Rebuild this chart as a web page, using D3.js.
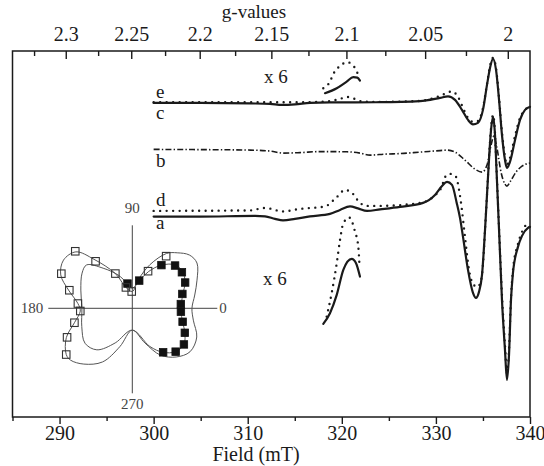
<!DOCTYPE html>
<html>
<head>
<meta charset="utf-8">
<script src="https://cdn.jsdelivr.net/npm/d3@7"></script>
<style>
	body { margin: 0; background: #fff; }
	svg { display: block; font-family: "Liberation Serif", "DejaVu Serif", serif; }
	svg text { font-family: "Liberation Serif", "DejaVu Serif", serif; }
</style>
</head>
<body>
<div id="chart"></div>
<script>
// ---- axes ----
const fieldTicks = [290, 300, 310, 320, 330, 340];
const fieldMinor = [285, 295, 305, 315, 325, 335];
const gTicks = [2.3, 2.25, 2.2, 2.15, 2.1, 2.05, 2];
const gLabels = ["2.3", "2.25", "2.2", "2.15", "2.1", "2.05", "2"];
const gMinor = [2.325, 2.275, 2.225, 2.175, 2.125, 2.075, 2.025];
// where the printed g scale sits on the field axis (mT)
const gAnchors = [2.3, 2];
const gAnchorField = [290.66, 337.64];

// ---- spectra: [field mT, signal a.u. relative to baseline] ----
const baseTop = 104.7;   // traces e, c
const baseMid = 89.2;    // trace b
const baseLow = 66.8;    // traces d, a

const traceC = [[300.0,0],[304.93,0],[310.24,-0.17],[312.37,-0.33],[313.64,-0.67],[315.02,-0.5],[316.62,0],[318.74,0.17],[324.06,0.23],[328.31,0.6],[330.44,1.67],[331.29,2.17],[332.03,1.0],[332.77,-2.33],[333.41,-5.67],[333.94,-7.17],[334.47,-6.67],[335.0,-2.33],[335.43,6.0],[335.75,11.67],[336.07,14.67],[336.39,11.0],[336.71,1.0],[337.02,-10.67],[337.34,-19.0],[337.55,-21.67],[337.87,-19.67],[338.41,-12.33],[338.94,-5.67],[339.47,-2.33],[340.0,-1.33]];

const traceE = [[300.0,0.23],[310.24,0.23],[315.56,0.23],[318.21,0.4],[319.81,1.33],[320.55,2.0],[321.4,1.33],[322.15,0.5],[324.06,0.33],[328.31,0.67],[330.44,2.33],[331.71,3.83],[332.35,2.0],[332.88,-1.67],[333.41,-5.0],[333.94,-6.33],[334.47,-6.0],[335.0,-1.67],[335.43,6.33],[335.75,12.33],[336.07,15.0],[336.39,11.67],[336.71,1.67],[337.02,-9.67],[337.34,-18.0],[337.55,-20.67],[337.87,-18.33],[338.41,-11.0],[338.94,-5.0],[339.47,-2.33],[340.0,-1.0]];

const traceB = [[300.0,0],[304.93,-0.07],[310.24,-0.23],[312.37,-0.57],[313.75,-1.23],[315.56,-1.07],[317.68,-0.73],[320.55,-0.8],[321.93,-1.23],[323.0,-1.9],[324.59,-1.57],[326.18,-1.4],[328.31,-0.9],[330.44,-0.4],[331.18,-0.23],[332.03,-0.9],[333.09,-3.57],[334.15,-6.57],[334.9,-7.57],[335.43,-5.23],[335.86,1.43],[336.17,4.43],[336.49,0.43],[336.92,-7.57],[337.34,-11.57],[337.55,-12.23],[337.87,-10.9],[338.51,-7.57],[339.15,-5.57],[340.0,-4.57]];

const traceA = [[300.0,0],[304.93,0],[310.77,0.23],[311.84,0.07],[312.9,-0.77],[313.75,-1.27],[315.02,-0.77],[316.62,0.07],[318.74,0.9],[319.81,2.23],[320.87,3.4],[321.72,2.73],[322.68,1.9],[324.06,2.4],[326.18,3.23],[328.63,4.57],[329.9,7.23],[330.65,10.23],[331.18,11.57],[331.71,10.57],[332.21,4.57],[332.56,-0.43],[332.88,-6.77],[333.41,-17.77],[333.94,-25.43],[334.26,-27.1],[334.58,-25.1],[334.9,-19.43],[335.22,-4.43],[335.43,7.23],[335.64,18.9],[335.86,28.9],[336.07,33.23],[336.28,27.23],[336.44,15.57],[336.71,-4.43],[337.02,-27.77],[337.34,-44.43],[337.55,-54.43],[337.77,-46.1],[337.98,-27.77],[338.19,-18.77],[338.72,-10.1],[339.15,-6.43],[339.79,-3.77],[340.0,-3.43]];

const traceD = [[300.0,1.9],[310.24,2.07],[311.84,2.9],[313.75,1.73],[315.56,2.57],[318.21,3.4],[319.49,6.57],[320.34,8.9],[321.08,7.9],[321.93,4.57],[322.68,3.57],[324.06,3.57],[328.31,4.57],[330.44,8.9],[331.15,13.9],[331.61,14.23],[332.14,13.23],[332.46,8.9],[332.67,4.57],[333.09,-6.77],[333.52,-17.77],[333.94,-22.43],[334.37,-23.43],[334.69,-22.43],[335.0,-16.1],[335.22,-4.43],[335.43,7.23],[335.64,19.57],[335.86,29.57],[336.07,33.9],[336.28,27.9],[336.44,16.23],[336.71,-3.77],[337.02,-26.1],[337.34,-42.77],[337.55,-52.1],[337.77,-44.43],[337.98,-27.1],[338.19,-17.77],[338.72,-9.1],[339.15,-5.1],[339.79,-2.1],[340.0,-1.77]];

// x6 expansions (upper relative to baseTop, lower relative to baseLow)
const zoomTopSolid = [[318.21,3.23],[319.46,4.9],[320.52,7.1],[321.22,8.57],[321.65,8.43],[321.93,7.43]];
const zoomTopDotted = [[318.03,4.9],[318.74,7.1],[319.1,9.67],[319.81,12.33],[320.58,13.57],[321.3,12.1],[321.75,9.33]];
const zoomLowSolid = [[318.03,-35.77],[318.74,-32.2],[319.46,-26.1],[320.16,-17.77],[321.05,-14.1],[321.51,-15.53],[321.93,-20.0]];
const zoomLowDotted = [[318.39,-33.33],[318.92,-25.53],[319.46,-15.53],[319.81,-7.77],[320.16,-2.2],[320.8,-0.33],[321.4,-5.0],[321.75,-10.0],[321.88,-16.43]];

// ---- angular plot (degrees, radius a.u.) ----
const filledAngles = [-55, -45, -35, -25, -15, -4, 5, 16, 26, 36, 45, 56, 76, 101];
const filledR = [64, 73, 75, 69, 62, 58, 58, 62, 70, 73, 72, 62, 34, 30];
const openAngles = [57, 67, 92, 107, 116, 128, 135, 154, 164, 175, 183, 194, 204, 215];
const openR = [74, 48, 20, 26, 46, 71, 96, 94, 78, 65, 62, 71, 85, 96];
const fitOpenAngles = [0, 12, 23.5, 35, 43, 51, 58, 68, 78, 90, 107, 116, 128, 135, 145, 155, 164, 175, 183, 194, 204, 215, 220, 229, 241, 252, 270, 290, 301, 312, 323, 336, 349];
const fitOpenR = [71, 76, 84, 94, 93, 85, 77, 56, 35, 20, 26, 46, 74, 95, 100, 94, 79, 65, 62, 71, 86, 96, 96, 88, 73, 48, 26, 44, 65, 78, 86, 84, 74];
const fitFilledAngles = [0, 15, 26, 36, 45, 56, 66, 76, 90, 101, 113, 126, 136.5, 145, 160.5, 180, 200, 216.5, 229.5, 243.7, 270, 294.7, 305, 315, 325, 335, 345, 356];
const fitFilledR = [58, 62, 70, 74, 73, 62, 48, 34, 24, 30, 43, 59, 75, 73, 65, 60, 64, 70, 65, 46, 26, 50, 64, 73, 75, 69, 62, 58];
const polarLabels = ["0", "90", "180", "270"];

// ---- layout ----
const width = 544, height = 466;
const plot = { left: 12.5, right: 530, top: 51, bottom: 417 };
const ink = "#1a1a1a";

const svg = d3.select("#chart")
	.append("svg")
	.attr("width", width)
	.attr("height", height);

const x = d3.scaleLinear().domain([285, 340]).range([plot.left, plot.right]);
const y = d3.scaleLinear().domain([0, 122]).range([plot.bottom, plot.top]);
const gx = d3.scaleLinear()
	.domain(gAnchors.map(g => 1 / g))
	.range(gAnchorField.map(f => x(f)));

// bottom axis
const bottomAxis = svg.append("g").attr("transform", `translate(0,${plot.bottom})`);
bottomAxis.append("g")
	.call(d3.axisBottom(x).tickValues(fieldTicks).tickSize(7).tickPadding(2))
	.call(g => g.select(".domain").remove());
bottomAxis.append("g")
	.call(d3.axisBottom(x).tickValues(fieldMinor).tickSize(4).tickFormat(""))
	.call(g => g.select(".domain").remove());

// top axis (g-values), ticks pointing inside
const topAxis = svg.append("g").attr("transform", `translate(0,${plot.top})`);
topAxis.append("g")
	.call(d3.axisTop(gx).tickValues(gTicks.map(g => 1 / g)).tickSizeInner(-8).tickSizeOuter(0)
		.tickPadding(10).tickFormat((d, i) => gLabels[i]))
	.call(g => g.select(".domain").remove());
topAxis.append("g")
	.call(d3.axisTop(gx).tickValues(gMinor.map(g => 1 / g)).tickSizeInner(-5).tickSizeOuter(0).tickFormat(""))
	.call(g => g.select(".domain").remove());

// d3 puts font attributes on the axis groups; drop them so the serif face applies
svg.selectAll("g").attr("font-family", null).attr("font-size", null);
svg.selectAll(".tick line").attr("stroke", ink).attr("stroke-width", 1.4);
svg.selectAll(".tick text")
	.attr("fill", ink)
	.style("font-size", "20px");

svg.append("rect")
	.attr("x", plot.left)
	.attr("y", plot.top)
	.attr("width", plot.right - plot.left)
	.attr("height", plot.bottom - plot.top)
	.attr("fill", "none")
	.attr("stroke", ink)
	.attr("stroke-width", 1.5);

svg.append("text")
	.attr("x", 256)
	.attr("y", 461)
	.attr("text-anchor", "middle")
	.style("font-size", "20px")
	.attr("fill", ink)
	.text("Field (mT)");

svg.append("text")
	.attr("x", 254)
	.attr("y", 18)
	.attr("text-anchor", "middle")
	.style("font-size", "19px")
	.attr("fill", ink)
	.text("g-values");

// ---- spectra ----
const styles = {
	solid: { width: 2.2, dash: null, cap: "round" },
	dotted: { width: 2.4, dash: "0,6.5", cap: "round" },
	dashdot: { width: 1.6, dash: "6,2.2,1.4,2.2", cap: "butt" },
};

function drawTrace(points, base, kind) {
	const s = styles[kind];
	const line = d3.line()
		.x(d => x(d[0]))
		.y(d => y(base + d[1]))
		.curve(d3.curveMonotoneX);
	svg.append("path")
		.datum(points)
		.attr("d", line)
		.attr("fill", "none")
		.attr("stroke", ink)
		.attr("stroke-width", s.width)
		.attr("stroke-linecap", s.cap)
		.attr("stroke-linejoin", "round")
		.attr("stroke-dasharray", s.dash);
}

drawTrace(traceE, baseTop, "dotted");
drawTrace(traceC, baseTop, "solid");
drawTrace(traceB, baseMid, "dashdot");
drawTrace(traceD, baseLow, "dotted");
drawTrace(traceA, baseLow, "solid");
drawTrace(zoomTopDotted, baseTop, "dotted");
drawTrace(zoomTopSolid, baseTop, "solid");
drawTrace(zoomLowDotted, baseLow, "dotted");
drawTrace(zoomLowSolid, baseLow, "solid");

function label(txt, px, py, size) {
	svg.append("text")
		.attr("x", px)
		.attr("y", py)
		.style("font-size", size + "px")
		.attr("fill", ink)
		.text(txt);
}

label("e", 156, 98, 19);
label("c", 156, 119, 19);
label("b", 156, 167, 19);
label("d", 156, 206, 19);
label("a", 156, 229, 19);
label("x 6", 264, 83, 19);
label("x 6", 263, 285, 19);

// ---- angular dependence inset ----
const rScale = d3.scaleLinear().domain([0, 100]).range([0, 84]);
const toRad = deg => (90 - deg) * Math.PI / 180;
const polar = svg.append("g").attr("transform", "translate(132.3,308.3)");
const axisLen = rScale(100);
const grey = "#444";

polar.append("line").attr("x1", -axisLen).attr("x2", axisLen + 1).attr("y1", 0).attr("y2", 0)
	.attr("stroke", grey).attr("stroke-width", 1);
polar.append("line").attr("x1", 0).attr("x2", 0).attr("y1", -axisLen + 1).attr("y2", axisLen + 1)
	.attr("stroke", grey).attr("stroke-width", 1);

const pLabel = (txt, px, py, anchor) => polar.append("text")
	.attr("x", px).attr("y", py)
	.attr("text-anchor", anchor)
	.style("font-size", "15px")
	.attr("fill", "#444")
	.text(txt);
pLabel(polarLabels[0], axisLen + 3, 5, "start");
pLabel(polarLabels[1], 0, -axisLen - 11, "middle");
pLabel(polarLabels[2], -axisLen - 5, 5, "end");
pLabel(polarLabels[3], 0, axisLen + 17, "middle");

const radial = d3.lineRadial()
	.angle(d => toRad(d[0]))
	.radius(d => rScale(d[1]))
	.curve(d3.curveCatmullRomClosed.alpha(0.5));

[[fitOpenAngles, fitOpenR], [fitFilledAngles, fitFilledR]].forEach(([angles, radii]) => {
	polar.append("path")
		.datum(angles.map((a, i) => [a, radii[i]]))
		.attr("d", radial)
		.attr("fill", "none")
		.attr("stroke", "#555")
		.attr("stroke-width", 1);
});

const sq = 7.5;
filledAngles.forEach((a, i) => {
	const [px, py] = d3.pointRadial(toRad(a), rScale(filledR[i]));
	polar.append("rect")
		.attr("x", px - sq / 2).attr("y", py - sq / 2)
		.attr("width", sq).attr("height", sq)
		.attr("fill", "#111").attr("stroke", "#111").attr("stroke-width", 0.8);
});
openAngles.forEach((a, i) => {
	const [px, py] = d3.pointRadial(toRad(a), rScale(openR[i]));
	polar.append("rect")
		.attr("x", px - sq / 2).attr("y", py - sq / 2)
		.attr("width", sq).attr("height", sq)
		.attr("fill", "none").attr("stroke", "#333").attr("stroke-width", 1.1);
});
</script>
</body>
</html>
